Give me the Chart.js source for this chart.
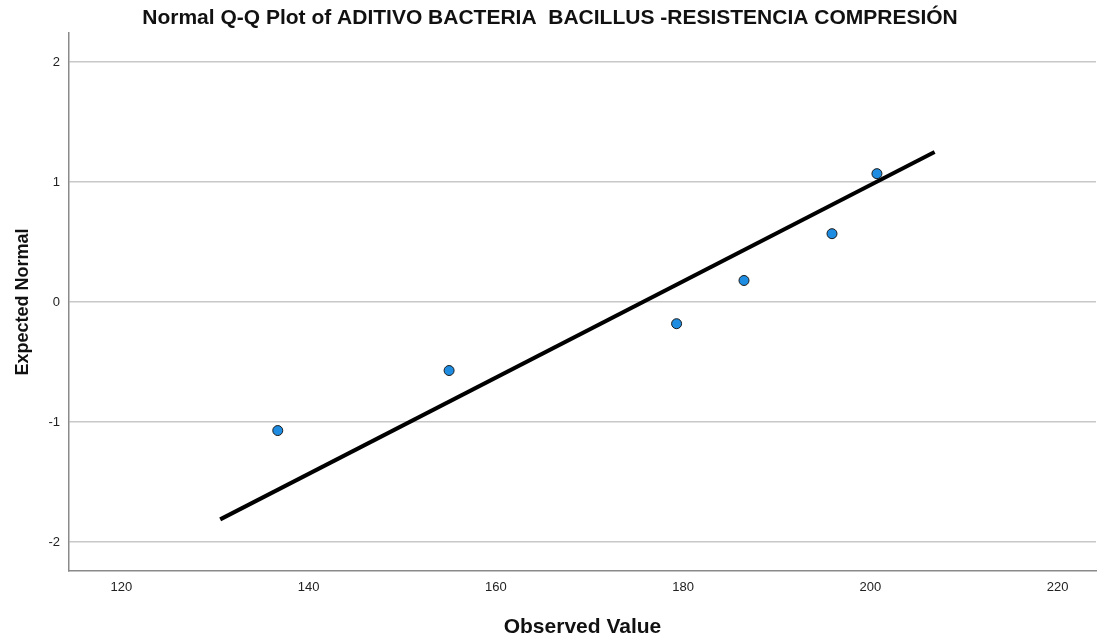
<!DOCTYPE html>
<html>
<head>
<meta charset="utf-8">
<script src="https://cdn.jsdelivr.net/npm/chart.js@4/dist/chart.umd.min.js"></script>
<style>
  html, body { margin: 0; padding: 0; background: #fff; }
  #wrap { width: 1102px; height: 641px; }
</style>
</head>
<body>
<div id="wrap"><canvas id="qq"></canvas></div>
<script>
// observed values and their expected normal scores
var observed = [136.7, 155.0, 179.3, 186.5, 195.9, 200.7];
var expected = [-1.07, -0.57, -0.18, 0.18, 0.57, 1.07];

// reference line end points
var lineX = [130.55, 206.86];
var lineY = [-1.81, 1.25];

var xTicks = [120, 140, 160, 180, 200, 220];
var yTicks = [-2, -1, 0, 1, 2];

var font = "'Liberation Sans', Arial, sans-serif";

var points = observed.map(function (v, i) { return {x: v, y: expected[i]}; });
var line = lineX.map(function (v, i) { return {x: v, y: lineY[i]}; });

new Chart(document.getElementById('qq'), {
    type: 'scatter',
    data: {
        datasets: [
            {
                data: points,
                backgroundColor: '#1e8ce0',
                borderColor: '#1a1a1a',
                borderWidth: 1,
                pointRadius: 5,
                pointHoverRadius: 5
            },
            {
                data: line,
                showLine: true,
                borderColor: '#000',
                borderWidth: 4,
                pointRadius: 0,
                pointHoverRadius: 0
            }
        ]
    },
    options: {
        responsive: true,
        maintainAspectRatio: false,
        animation: false,
        layout: { padding: { left: 0, right: 2, top: 0, bottom: 0 } },
        plugins: {
            legend: { display: false },
            tooltip: { enabled: false },
            title: {
                display: true,
                text: 'Normal Q-Q Plot of ADITIVO BACTERIA  BACILLUS -RESISTENCIA COMPRESIÓN',
                color: '#111',
                font: { family: font, size: 21, weight: 'bold' },
                padding: { top: 6, bottom: 2 }
            }
        },
        scales: {
            x: {
                type: 'linear',
                min: 114.4,
                max: 224.1,
                afterBuildTicks: function (scale) {
                    scale.ticks = xTicks.map(function (v) { return {value: v}; });
                },
                afterFit: function (scale) { scale.height = 70; },
                grid: { display: false, drawTicks: false },
                border: { display: true, color: '#8a8a8a', width: 1.5 },
                ticks: {
                    color: '#222',
                    padding: 9,
                    maxRotation: 0,
                    font: { family: font, size: 13 }
                },
                title: {
                    display: true,
                    text: 'Observed Value',
                    color: '#111',
                    font: { family: font, size: 21, weight: 'bold' },
                    padding: { top: 2, bottom: 1.5 }
                }
            },
            y: {
                type: 'linear',
                min: -2.24,
                max: 2.24,
                afterBuildTicks: function (scale) {
                    scale.ticks = yTicks.map(function (v) { return {value: v}; });
                },
                afterFit: function (scale) { scale.width = 69; },
                grid: { color: '#c8c8c8', lineWidth: 1.5, drawTicks: false },
                border: { display: true, color: '#8a8a8a', width: 1.5 },
                ticks: {
                    color: '#222',
                    padding: 9,
                    font: { family: font, size: 13 }
                },
                title: {
                    display: true,
                    text: 'Expected Normal',
                    color: '#111',
                    font: { family: font, size: 18, weight: 'bold' },
                    padding: { top: 12, bottom: 2 }
                }
            }
        }
    }
});
</script>
</body>
</html>
